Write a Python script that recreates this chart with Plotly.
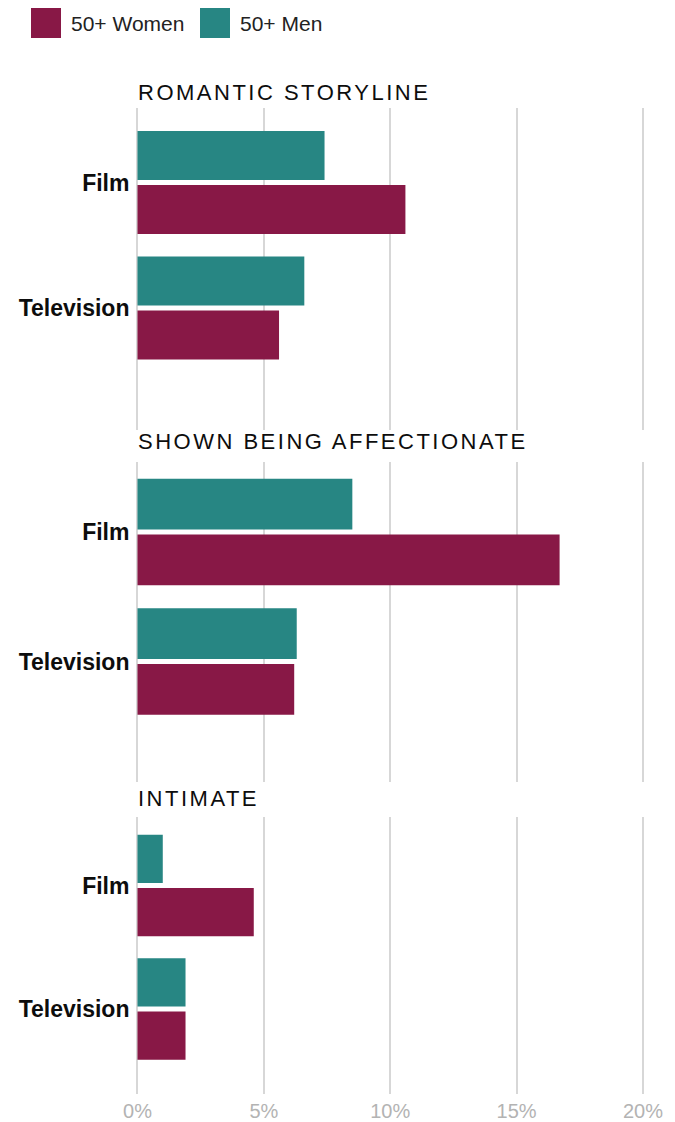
import plotly.graph_objects as go
from plotly.subplots import make_subplots

# 数据
panels = ['ROMANTIC STORYLINE', 'SHOWN BEING AFFECTIONATE', 'INTIMATE']
media = ['Film', 'Television']
men_pct = [[7.4, 6.6], [8.5, 6.3], [1.0, 1.9]]
women_pct = [[10.6, 5.6], [16.7, 6.2], [4.6, 1.9]]
x_ticks = [0, 5, 10, 15, 20]
x_tick_labels = ['0%', '5%', '10%', '15%', '20%']

WOMEN_COLOR = '#881846'
MEN_COLOR = '#278683'
GRID = '#d7d7d7'
FONT = 'Liberation Sans, Arial, sans-serif'
W, H = 675, 1122

# 每个面板的像素位置: (网格顶部, 网格底部, Film 中心, Television 中心, 标题 y)
panel_px = [
    (108, 430, 182.5, 308, 92),
    (462, 782, 532, 661.5, 441),
    (817, 1094, 885.5, 1009, 798),
]

fig = make_subplots(rows=3, cols=1, shared_xaxes=True, vertical_spacing=0.02)

for i in range(3):
    fig.add_trace(go.Bar(
        y=media, x=men_pct[i], orientation='h', name='50+ Men',
        marker=dict(color=MEN_COLOR, line=dict(width=0)),
        showlegend=False, hovertemplate='%{y}: %{x}%<extra>50+ Men</extra>'
    ), row=i + 1, col=1)
    fig.add_trace(go.Bar(
        y=media, x=women_pct[i], orientation='h', name='50+ Women',
        marker=dict(color=WOMEN_COLOR, line=dict(width=0)),
        showlegend=False, hovertemplate='%{y}: %{x}%<extra>50+ Women</extra>'
    ), row=i + 1, col=1)

x_left, x_right = 137.5 - 0.2 * 25.27, 643 + 0.3 * 25.27

for i, (top, bottom, film_c, tv_c, title_y) in enumerate(panel_px):
    unit = tv_c - film_c
    y_top = -(film_c - top) / unit
    y_bot = 1 + (bottom - tv_c) / unit
    fig.update_yaxes(
        domain=[1 - bottom / H, 1 - top / H],
        range=[y_bot, y_top],
        showgrid=False, zeroline=False, showline=False, ticks='',
        tickfont=dict(family=FONT, size=23, color='#0d0d0d'),
        tickprefix='<b>', ticksuffix='</b>',
        ticklabelstandoff=2, automargin=False,
        row=i + 1, col=1
    )
    fig.update_xaxes(
        domain=[x_left / W, x_right / W],
        range=[-0.2, 20.3],
        tickvals=x_ticks, ticktext=x_tick_labels,
        showgrid=True, gridcolor=GRID, gridwidth=1.5,
        zeroline=True, zerolinecolor=GRID, zerolinewidth=1.5,
        showline=False, ticks='', automargin=False,
        tickfont=dict(family=FONT, size=20, color='#b3b3b3'),
        ticklabelstandoff=3,
        showticklabels=(i == 2),
        row=i + 1, col=1
    )
    fig.add_annotation(
        text=f'<span style="letter-spacing:2.5px">{panels[i]}</span>',
        xref='paper', yref='paper', x=136 / W, y=1 - title_y / H,
        xanchor='left', yanchor='middle', showarrow=False,
        font=dict(family=FONT, size=22, color='#0d0d0d')
    )

# 图例 (手动绘制)
legend_items = [('50+ Women', WOMEN_COLOR, 31), ('50+ Men', MEN_COLOR, 200)]
for label, color, x0 in legend_items:
    fig.add_shape(type='rect', xref='paper', yref='paper',
                  x0=x0 / W, x1=(x0 + 30) / W, y0=1 - 38 / H, y1=1 - 8 / H,
                  fillcolor=color, line=dict(width=0))
    fig.add_annotation(
        text=label, xref='paper', yref='paper',
        x=(x0 + 38) / W, y=1 - 23 / H, xanchor='left', yanchor='middle',
        showarrow=False, font=dict(family=FONT, size=21, color='#222222')
    )

fig.update_layout(
    width=W, height=H,
    barmode='group', bargap=0.14, bargroupgap=0.09,
    margin=dict(l=0, r=0, t=0, b=0),
    plot_bgcolor='white', paper_bgcolor='white',
    showlegend=False,
)

fig.write_html(
    'out.html',
    config={'responsive': False, 'displayModeBar': False},
    post_script="document.body.style.margin='0';document.body.style.overflow='hidden';"
)
